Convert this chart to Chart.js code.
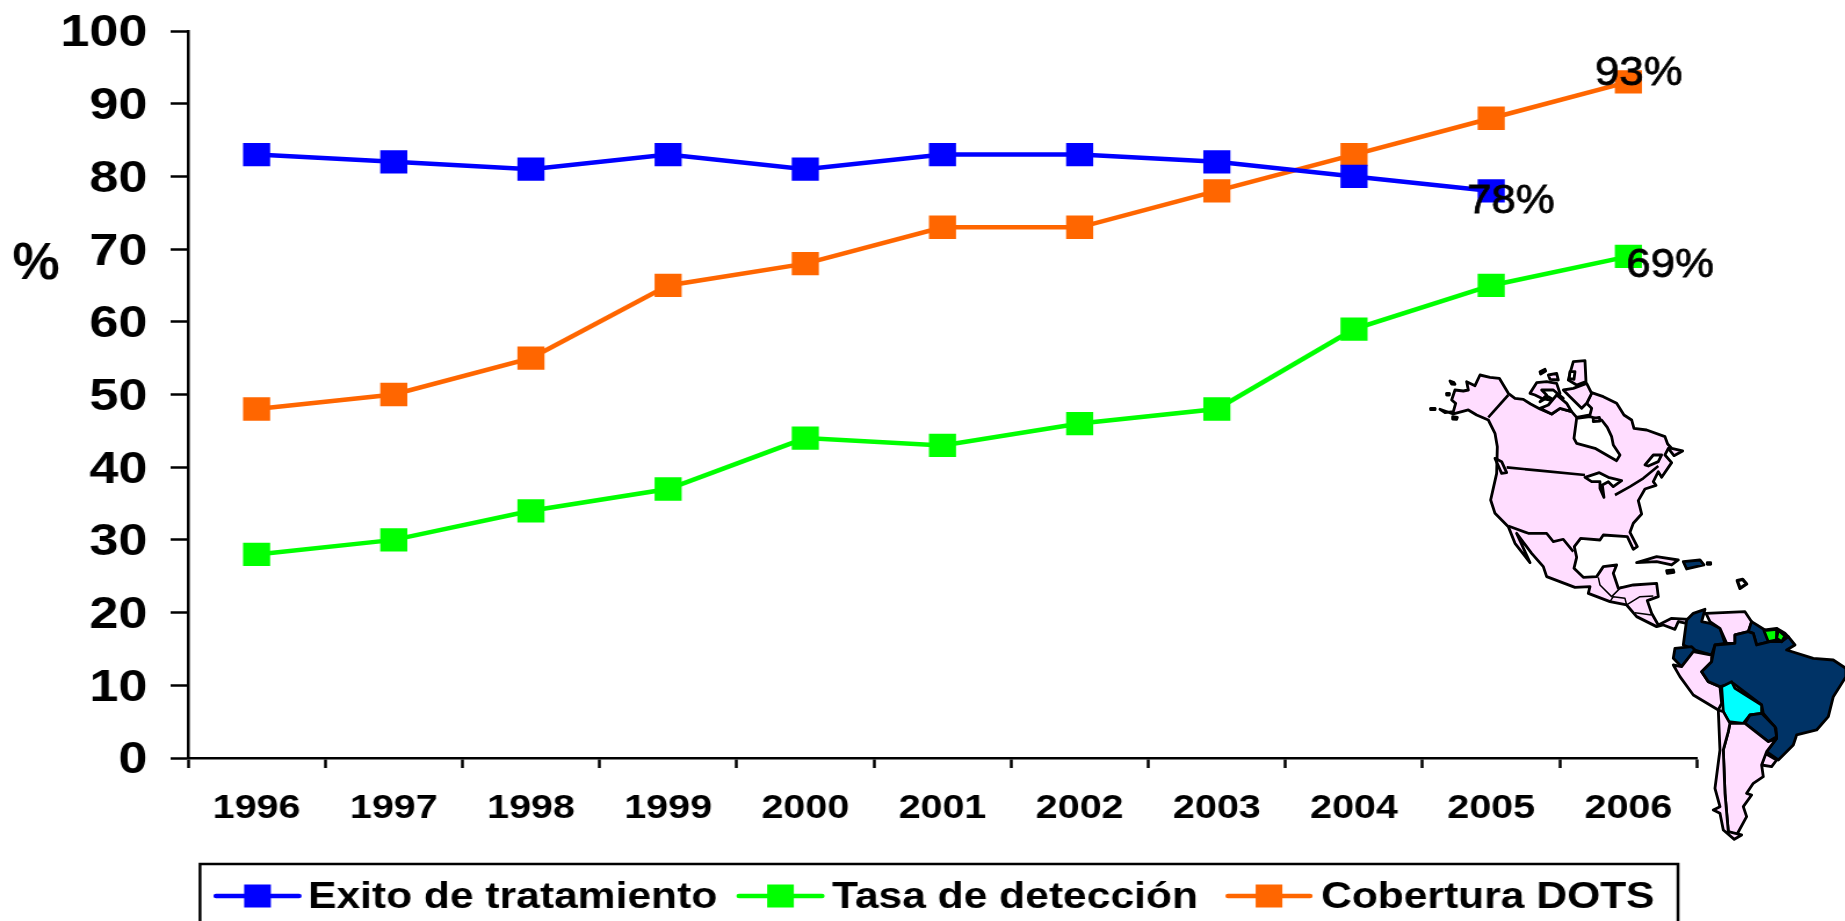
<!DOCTYPE html>
<html>
<head>
<meta charset="utf-8">
<title>Exito de tratamiento, tasa de detección y cobertura DOTS</title>
<script src="https://cdn.jsdelivr.net/npm/chart.js@4"></script>
<style>
    html, body { margin: 0; padding: 0; background: #fff; overflow: hidden; }
    #wrap { position: relative; width: 1845px; height: 921px; overflow: hidden; }
    /* the reference is stretched sideways, so the chart is drawn narrower and scaled */
    #chart { position: absolute; left: 0; top: 0; transform-origin: 0 0; transform: scale(1.1604, 1); }
    #mapa { position: absolute; left: 0; top: 0; }
    #mapa polygon { stroke: #000; stroke-width: 8.5; stroke-linejoin: round; fill: #ffddff; }
    #mapa polyline { stroke: #000; stroke-width: 8; stroke-linejoin: round; fill: none; }
    #mapa .fino { stroke-width: 4.5; }
    #mapa .oscuro { fill: #003366; }
    #mapa .blanco { fill: #fff; }
    #mapa .verde { fill: #00ff00; }
    #mapa .cian { fill: #00ffff; }
</style>
</head>
<body>
<div id="wrap">
    <canvas id="chart" width="1590" height="921"></canvas>
    <svg id="mapa" width="1845" height="921">
        <!-- America del Norte, coordenadas del recorte x3 -->
        <g transform="translate(1400,340) scale(0.3333)">
            <polygon points="120,208 135,218 160,215 167,190 155,180 165,150 190,153 205,150 200,125 225,137 240,105 270,112 298,115 325,160 345,175 370,178 392,192 420,207 455,222 480,205 515,215 530,232 570,225 575,205 560,190 575,158 610,170 650,190 672,225 695,240 702,265 740,270 795,290 803,312 815,325 848,333 822,347 805,325 795,345 815,368 785,412 775,395 760,425 768,436 735,447 715,482 725,522 700,550 690,577 712,620 700,628 682,590 610,585 600,600 542,595 523,620 530,652 522,685 550,712 590,710 610,680 650,675 640,700 655,745 700,735 770,730 775,770 742,782 755,820 775,855 815,835 868,838 860,850 835,845 825,868 790,855 770,860 710,830 680,795 630,785 565,760 570,740 525,742 440,710 430,680 395,640 350,580 390,668 345,610 325,560 285,520 272,480 290,400 292,320 285,280 265,240 230,225 205,210 160,222"/>
            <polygon class="blanco" points="530,235 570,230 605,240 622,262 635,290 640,315 660,345 650,362 620,345 585,325 530,310 522,295"/>
            <polygon class="blanco" points="555,412 598,398 625,412 665,422 640,440 625,425 607,435 612,472 600,445 600,425 575,425"/>
            <polygon class="blanco" points="735,375 760,345 785,345 775,365 745,378"/>
            <polyline points="645,465 690,440 730,415 775,378"/>
            <polygon points="390,160 410,128 440,125 470,130 480,160 470,190 450,180 425,175 405,165"/>
            <polygon class="blanco" points="425,150 460,150 490,175 470,185 445,170 420,185 440,165"/>
            <polygon points="420,205 445,195 470,165 500,190 515,215 480,205 455,222"/>
            <polygon points="510,100 520,65 555,62 558,125 530,135 505,120"/>
            <polygon points="490,150 520,145 560,130 575,160 560,190 545,205 510,170"/>
            <polygon points="445,105 470,100 475,120 450,118"/>
            <polygon class="blanco" points="510,95 525,95 522,118 508,115"/>
            <polygon points="420,95 435,88 437,93 422,102"/>
            <polygon points="580,235 598,232 600,243 580,245"/>
            <polygon points="285,355 305,365 320,398 305,400"/>
            <polyline points="325,165 265,232"/>
            <polyline points="320,382 420,392 555,405"/>
            <polyline points="325,558 385,580 440,580 460,605 490,598 520,635"/>
            <polyline class="fino" points="595,712 600,735 635,770 665,740"/>
            <polyline class="fino" points="630,785 640,770 675,775 680,795 720,770 760,768"/>
            <polyline class="fino" points="705,818 755,825"/>
            <polygon points="710,668 770,650 835,660 815,675 770,665"/>
            <polygon class="oscuro" points="850,665 900,660 912,675 860,687"/>
            <polygon points="800,692 820,690 822,697 802,700"/>
            <polygon points="922,668 932,668 932,673 922,673"/>
            <polygon class="blanco" points="1012,722 1028,718 1040,732 1020,745" style="stroke-width:10"/>
            <polygon points="92,205 105,205 105,209 92,209"/>
            <polygon points="150,123 162,128 165,133 155,132"/>
            <polygon points="140,160 148,160 148,165 140,165"/>
            <polygon points="158,230 172,232 170,238 158,237"/>
        </g>
        <!-- America del Sur -->
        <g transform="translate(1400,580) scale(0.3333)">
            <polygon class="oscuro" points="915,88 905,125 930,130 960,145 975,190 945,195 935,225 885,210 850,195 860,120 880,100"/>
            <polygon class="oscuro" points="825,205 875,200 885,210 845,260 820,235"/>
            <polygon points="820,255 845,260 880,215 935,225 935,245 905,275 925,305 960,320 965,370 955,390 880,345 840,290"/>
            <polygon points="918,100 1035,95 1055,125 1045,155 1005,165 1005,190 980,190 960,145 930,125"/>
            <polygon class="oscuro" points="1055,125 1095,150 1110,185 1070,195 1060,160 1045,155"/>
            <polygon class="oscuro" points="1095,150 1130,145 1155,160 1165,170 1145,185 1110,185"/>
            <polygon class="oscuro" points="945,195 1005,190 1005,165 1045,155 1060,160 1070,195 1110,185 1145,185 1165,170 1185,195 1160,210 1240,235 1300,240 1338,265 1338,290 1300,350 1285,410 1250,450 1190,465 1180,495 1135,540 1100,515 1130,475 1128,445 1090,400 1085,375 1000,310 960,320 925,305 905,275 935,245"/>
            <polygon class="verde" points="1092,152 1130,148 1130,180 1105,185"/>
            <polygon class="verde" points="1135,150 1155,168 1145,185 1130,175"/>
            <polygon class="cian" points="965,320 995,305 1005,325 1085,375 1085,400 1050,405 1030,430 985,425 970,395"/>
            <polygon class="oscuro" points="1050,405 1085,400 1125,440 1130,470 1105,485 1035,430"/>
            <polygon points="1095,520 1130,540 1115,560 1085,555"/>
            <polygon points="990,430 1035,430 1105,485 1130,475 1100,515 1085,555 1090,590 1060,610 1040,640 1055,645 1030,680 1040,710 1010,765 985,755 975,640 970,510 985,455"/>
            <polygon points="955,390 970,395 990,430 985,455 970,510 975,640 985,755 1025,765 1003,778 970,750 960,700 940,690 960,680 945,625 960,510"/>
        </g>
    </svg>
</div>
<script>
    // Datos
    const anos = ['1996', '1997', '1998', '1999', '2000', '2001', '2002', '2003', '2004', '2005', '2006'];
    const exitoTratamiento = [83, 82, 81, 83, 81, 83, 83, 82, 80, 78, null];
    const tasaDeteccion = [28, 30, 34, 37, 44, 43, 46, 48, 59, 65, 69];
    const coberturaDots = [48, 50, 55, 65, 68, 73, 73, 78, 83, 88, 93];
    const etiquetaEje = '%';

    const fuente = '"Liberation Sans", Arial, sans-serif';
    const k = 1.1604; // estiramiento horizontal

    function serie(label, data, color) {
        return {
            label: label,
            data: data,
            borderColor: color,
            backgroundColor: color,
            borderWidth: 4.5,
            pointStyle: 'rect',
            pointRadius: 16.5,
            pointBorderWidth: 0,
            tension: 0,
            spanGaps: false
        };
    }

    // Texto algo más estrecho que el resto del dibujo
    function textoEstrecho(ctx, texto, x, y, escala, grosor) {
        ctx.save();
        ctx.translate(x, y);
        ctx.scale(escala, 1);
        ctx.fillText(texto, 0, 0);
        if (grosor) {
            ctx.strokeStyle = '#000';
            ctx.lineWidth = grosor;
            ctx.strokeText(texto, 0, 0);
        }
        ctx.restore();
    }

    // Etiquetas finales, el eje "%" y la leyenda con su marco
    const extras = {
        id: 'extras',
        afterDatasetsDraw(chart) {
            const ctx = chart.ctx;
            ctx.save();
            ctx.fillStyle = '#000';
            ctx.textBaseline = 'alphabetic';

            // valor final de cada serie
            const finales = [[0, 17, 22], [1, 36, 21], [2, 9, 3]];
            ctx.font = '41px ' + fuente;
            ctx.textAlign = 'center';
            finales.forEach(function (f) {
                const ds = chart.data.datasets[f[0]];
                let i = ds.data.length - 1;
                while (ds.data[i] === null) i--;
                const p = chart.getDatasetMeta(f[0]).data[i];
                textoEstrecho(ctx, ds.data[i] + '%', p.x + f[1], p.y + f[2], 0.92, 0.8);
            });

            // "%" horizontal a la izquierda del eje
            ctx.font = 'bold 52px ' + fuente;
            textoEstrecho(ctx, etiquetaEje, 31, 279, 0.88);

            // leyenda
            ctx.strokeStyle = '#000';
            ctx.lineWidth = 2.5;
            ctx.strokeRect(200 / k, 864, (1678 - 200) / k, 70);
            const posLeyenda = [[216, 299, 308], [739, 822, 832], [1228, 1310, 1321]];
            ctx.font = 'bold 36.7px ' + fuente;
            ctx.textAlign = 'left';
            chart.data.datasets.forEach(function (ds, i) {
                const x = posLeyenda[i];
                ctx.strokeStyle = ds.borderColor;
                ctx.fillStyle = ds.borderColor;
                ctx.lineWidth = 4.5;
                ctx.lineCap = 'round';
                ctx.beginPath();
                ctx.moveTo(x[0] / k, 896);
                ctx.lineTo(x[1] / k, 896);
                ctx.stroke();
                const cx = (x[0] + x[1]) / 2 / k;
                ctx.fillRect(cx - 11.5, 884.5, 23, 23);
                ctx.fillStyle = '#000';
                ctx.fillText(ds.label, x[2] / k, 908);
            });
            ctx.restore();
        }
    };

    const ctx = document.getElementById('chart').getContext('2d');
    const chart = new Chart(ctx, {
        type: 'line',
        data: {
            labels: anos,
            datasets: [
                serie('Exito de tratamiento', exitoTratamiento, '#0000ff'),
                serie('Tasa de detección', tasaDeteccion, '#00ff00'),
                serie('Cobertura DOTS', coberturaDots, '#ff6600')
            ]
        },
        options: {
            responsive: false,
            animation: false,
            devicePixelRatio: 1,
            layout: { padding: { top: 31, right: 127.6, left: 0, bottom: 0 } },
            plugins: { legend: { display: false }, title: { display: false }, tooltip: { enabled: false } },
            scales: {
                x: {
                    type: 'category',
                    offset: true,
                    afterFit: function (scale) { scale.height = 163; scale.paddingRight = 0; scale.paddingLeft = 0; },
                    border: { display: true, color: '#000', width: 2.5 },
                    grid: { offset: true, drawOnChartArea: false, drawTicks: true, tickLength: 10, tickColor: '#000', tickWidth: 2.5 },
                    ticks: {
                        color: '#000',
                        maxRotation: 0,
                        autoSkip: false,
                        padding: 20,
                        font: { family: fuente, size: 34, weight: 'bold' }
                    }
                },
                y: {
                    min: 0,
                    max: 100,
                    afterFit: function (scale) { scale.width = 162; scale.paddingTop = 0; scale.paddingBottom = 0; },
                    border: { display: true, color: '#000', width: 2.5 },
                    grid: { drawOnChartArea: false, drawTicks: true, tickLength: 15, tickColor: '#000', tickWidth: 2.5 },
                    ticks: {
                        color: '#000',
                        stepSize: 10,
                        padding: 20,
                        labelOffset: 3,
                        font: { family: fuente, size: 45, weight: 'bold' }
                    }
                }
            }
        },
        plugins: [extras]
    });
</script>
</body>
</html>
